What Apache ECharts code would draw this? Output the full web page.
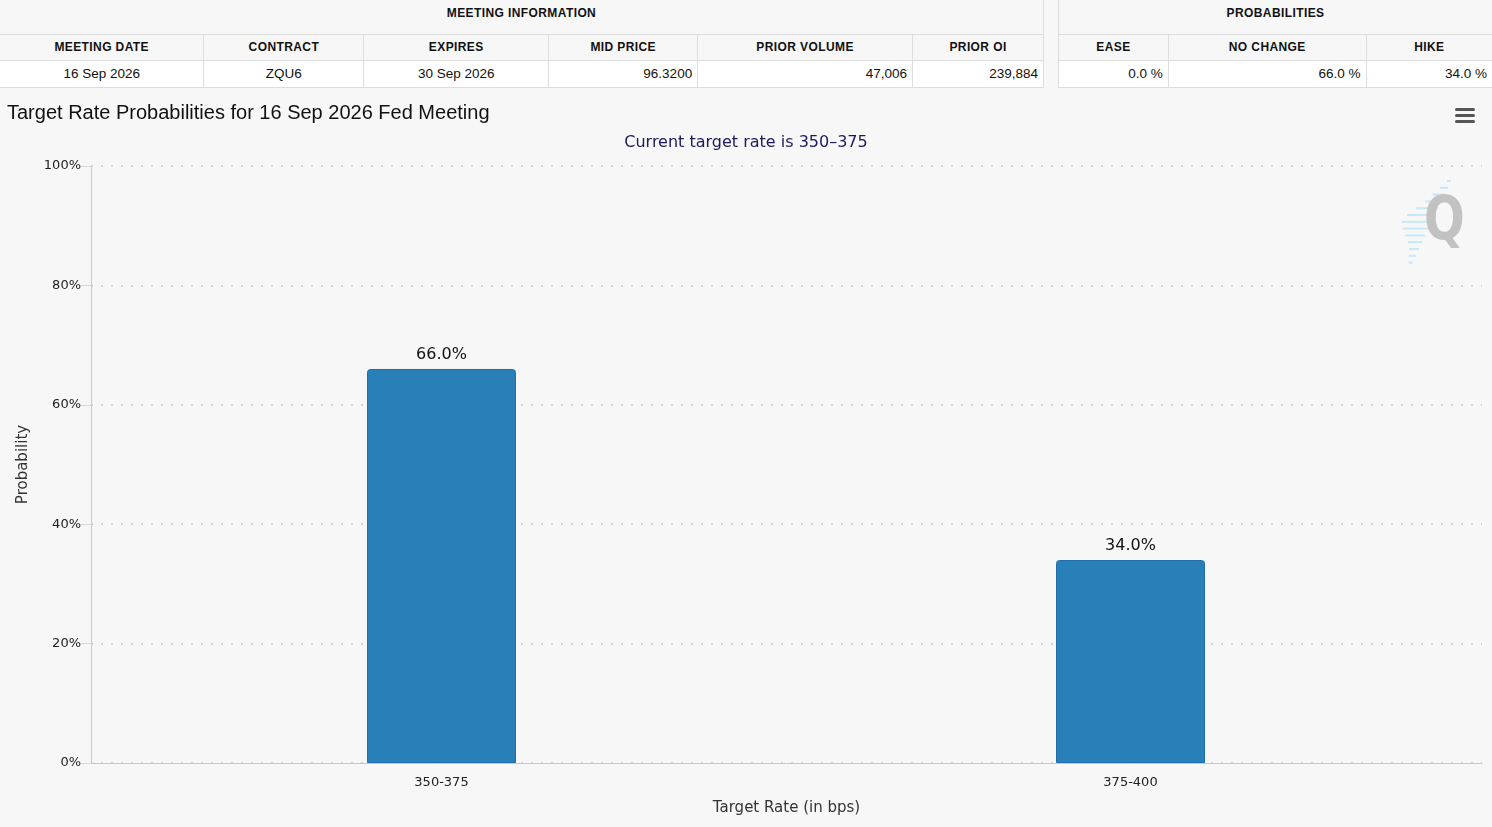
<!DOCTYPE html>
<html>
<head>
<meta charset="utf-8">
<script src="https://cdn.jsdelivr.net/npm/echarts@6/dist/echarts.min.js"></script>
<style>
  html, body { margin: 0; padding: 0; background: #f7f7f7; width: 1492px; height: 827px; overflow: hidden; }
  .tables { position: absolute; left: 0; top: 0; height: 88px; width: 1492px; }
  table { position: absolute; top: 0; border-collapse: collapse; font-family: Arial, "Liberation Sans", sans-serif; }
  td, th { border: 1px solid #dddddd; padding: 0 5px; box-sizing: border-box; }
  th { font-size: 12px; font-weight: bold; color: #111; background: #f7f7f7; letter-spacing: 0.4px; }
  tr.top th { height: 34px; border-top: none; vertical-align: top; padding-top: 6px; }
  tr.sub th { height: 26px; }
  td { font-size: 13.5px; color: #111; background: #ffffff; height: 27px; text-align: right; }
  td.c { text-align: center; }
  #chart { position: absolute; left: 0; top: 92px; width: 1492px; height: 735px; }
</style>
</head>
<body>
<div class="tables">
  <table id="meet" style="left:0;width:1044px">
    <tr class="top"><th colspan="6" style="border-left:none">MEETING INFORMATION</th></tr>
    <tr class="sub">
      <th style="width:204px;border-left:none">MEETING DATE</th><th style="width:160px">CONTRACT</th><th style="width:185px">EXPIRES</th>
      <th style="width:149px">MID PRICE</th><th style="width:215px">PRIOR VOLUME</th><th style="width:131px">PRIOR OI</th>
    </tr>
    <tr id="meetRow"></tr>
  </table>
  <table id="prob" style="left:1058px;width:434px">
    <tr class="top"><th colspan="3" style="border-right:none">PROBABILITIES</th></tr>
    <tr class="sub">
      <th style="width:110px">EASE</th><th style="width:198px">NO CHANGE</th><th style="width:126px;border-right:none">HIKE</th>
    </tr>
    <tr id="probRow"></tr>
  </table>
</div>
<div id="chart"></div>
<script>
// table data
var meetingInfo = ['16 Sep 2026', 'ZQU6', '30 Sep 2026', '96.3200', '47,006', '239,884'];
var meetingCentered = [true, true, true, false, false, false];
var probLabels = ['0.0 %', '66.0 %', '34.0 %'];

// chart data
var categories = ['350-375', '375-400'];
var probabilities = [66.0, 34.0];
var yTicks = [0, 20, 40, 60, 80, 100];

var mr = document.getElementById('meetRow');
meetingInfo.forEach(function (v, i) {
  var td = document.createElement('td');
  td.textContent = v;
  if (meetingCentered[i]) td.className = 'c';
  if (i === 0) td.style.borderLeft = 'none';
  mr.appendChild(td);
});
var pr = document.getElementById('probRow');
probLabels.forEach(function (v, i) {
  var td = document.createElement('td');
  td.textContent = v;
  if (i === probLabels.length - 1) td.style.borderRight = 'none';
  pr.appendChild(td);
});

var axisFont = 'DejaVu Sans, Verdana, sans-serif';
var myChart = echarts.init(document.getElementById('chart'));

// watermark streaks next to the "Q"
var streakLens = [4, 8, 12, 16, 22, 28, 30, 26, 20, 14, 10, 7, 4];
var streaks = streakLens.map(function (len, k) {
  var yy = 88 + k * 6.8;
  var xr = 1451 - k * 3.2;
  return {
    type: 'rect', silent: true, z: 1,
    shape: { x: xr - len, y: yy, width: len, height: 2 },
    style: { fill: '#c4e9f8' }
  };
});

myChart.setOption({
  backgroundColor: '#f7f7f7',
  title: [{
    text: 'Target Rate Probabilities for 16 Sep 2026 Fed Meeting',
    left: 2, top: 6,
    textStyle: { fontFamily: 'Arial, Liberation Sans, sans-serif', fontSize: 20, fontWeight: 'normal', color: '#111' }
  }, {
    text: 'Current target rate is 350\u2013375',
    left: 'center', top: 38,
    textStyle: { fontFamily: axisFont, fontSize: 16, fontWeight: 'normal', color: '#1a1a5e' }
  }],
  graphic: streaks.concat([
    {
      type: 'text', silent: true, left: 1424, top: 101, z: 2,
      scaleX: 0.8,
      style: { text: 'Q', font: 'bold 60px DejaVu Sans, sans-serif', fill: '#c2c2c2' }
    },
    { type: 'rect', shape: { x: 1455, y: 16, width: 20, height: 3, r: 1.5 }, style: { fill: '#555' } },
    { type: 'rect', shape: { x: 1455, y: 22, width: 20, height: 3, r: 1.5 }, style: { fill: '#555' } },
    { type: 'rect', shape: { x: 1455, y: 28, width: 20, height: 3, r: 1.5 }, style: { fill: '#555' } }
  ]),
  grid: [
    { left: 91, right: 10, top: 74, bottom: 64 },
    { left: 97, right: 17, top: 74, bottom: 64 }
  ],
  xAxis: [{
    gridIndex: 0,
    type: 'category',
    data: categories,
    name: 'Target Rate (in bps)',
    nameLocation: 'middle',
    nameGap: 38,
    nameTextStyle: { fontFamily: axisFont, fontSize: 15, color: '#333' },
    axisLine: { lineStyle: { color: '#c8c8c8', width: 1 } },
    axisTick: { show: false },
    axisLabel: { show: false }
  }, {
    gridIndex: 1,
    type: 'category',
    data: categories,
    axisLine: { show: false },
    axisTick: { alignWithLabel: true, length: 10, lineStyle: { color: '#c8c8c8' } },
    axisLabel: { fontFamily: axisFont, fontSize: 13, color: '#222', margin: 13 }
  }],
  yAxis: [{
    gridIndex: 0,
    type: 'value',
    min: yTicks[0], max: yTicks[yTicks.length - 1], interval: 20,
    name: 'Probability',
    nameLocation: 'middle',
    nameGap: 60,
    nameTextStyle: { fontFamily: axisFont, fontSize: 15, color: '#333' },
    axisLine: { show: true, lineStyle: { color: '#c8c8c8', width: 1 } },
    axisTick: { show: true, length: 10, lineStyle: { color: '#d8d8d8' } },
    axisLabel: { fontFamily: axisFont, fontSize: 13, color: '#222', margin: 10, formatter: '{value}%' },
    splitLine: { lineStyle: { color: '#d4d4d4', type: [2, 8], width: 2 } }
  }, {
    gridIndex: 1,
    type: 'value',
    min: yTicks[0], max: yTicks[yTicks.length - 1], interval: 20,
    show: false,
    splitLine: { show: false }
  }],
  series: [{
    type: 'bar',
    xAxisIndex: 1,
    yAxisIndex: 1,
    data: probabilities,
    barWidth: 149,
    itemStyle: { color: '#2980b9', borderColor: '#1f6ea8', borderWidth: 1, borderRadius: [3, 3, 0, 0] },
    label: {
      show: true, position: 'top', distance: 6,
      fontFamily: axisFont, fontSize: 16, color: '#111',
      formatter: function (p) { return p.value.toFixed(1) + '%'; }
    }
  }]
});
</script>
</body>
</html>
